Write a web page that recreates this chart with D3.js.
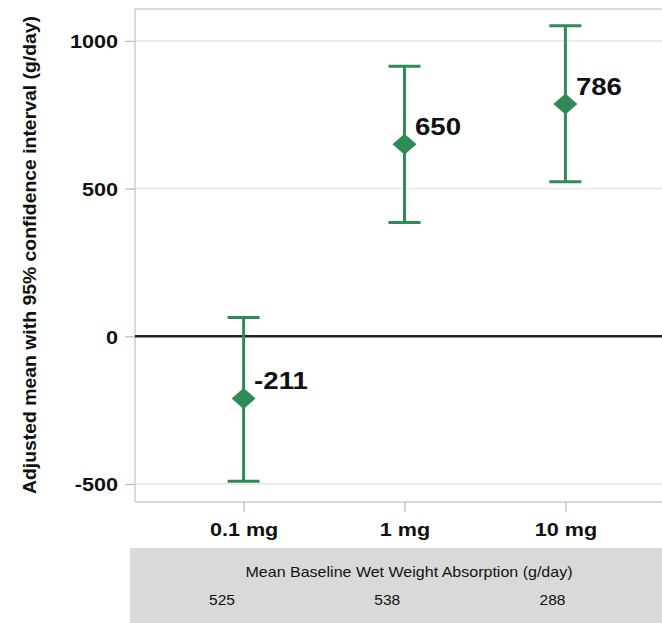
<!DOCTYPE html>
<html>
<head>
<meta charset="utf-8">
<script src="https://cdn.jsdelivr.net/npm/d3@7"></script>
<style>
  html, body { margin: 0; padding: 0; background: #fff; }
  svg { display: block; font-family: "Liberation Sans", Arial, sans-serif; }
</style>
</head>
<body>
<svg id="chart" width="662" height="623"></svg>
<script>
// ---- data ----
const doses = ["0.1 mg", "1 mg", "10 mg"];
const means = [-211, 650, 786];
const lowerCI = [-491, 385, 523];
const upperCI = [64, 914, 1051];
const baselineAbsorption = [525, 538, 288];
const yTicks = [-500, 0, 500, 1000];
const yTitle = "Adjusted mean with 95% confidence interval (g/day)";
const tableTitle = "Mean Baseline Wet Weight Absorption (g/day)";

// ---- layout ----
const W = 662, H = 623;
const plot = { left: 135, top: 9, bottom: 502, right: 674 };
const green = "#2e8b57";
const sx = 1.2; // horizontal stretch of bold text in the reference

const svg = d3.select("#chart");

const x = d3.scalePoint().domain(doses).range([plot.left, plot.right]).padding(0.675);
const y = d3.scaleLinear().domain([-561, 1108]).range([plot.bottom, plot.top]);
const xTable = d3.scalePoint().domain(doses).range([222, 552.5]);

// gridlines
svg.append("g").selectAll("line").data(yTicks.filter(d => d !== 0)).join("line")
  .attr("x1", plot.left).attr("x2", W)
  .attr("y1", d => y(d)).attr("y2", d => y(d))
  .attr("stroke", "#e6e6e6").attr("stroke-width", 1.5);

// frame: left, top, bottom
svg.append("line").attr("x1", plot.left).attr("x2", plot.left)
  .attr("y1", plot.top).attr("y2", plot.bottom)
  .attr("stroke", "#cfcfcf").attr("stroke-width", 1.5);
svg.append("line").attr("x1", plot.left).attr("x2", W)
  .attr("y1", plot.top).attr("y2", plot.top)
  .attr("stroke", "#cfcfcf").attr("stroke-width", 1.5);
svg.append("line").attr("x1", plot.left).attr("x2", W)
  .attr("y1", plot.bottom).attr("y2", plot.bottom)
  .attr("stroke", "#cfcfcf").attr("stroke-width", 1.5);

// zero line
svg.append("line").attr("x1", plot.left).attr("x2", W)
  .attr("y1", y(0)).attr("y2", y(0))
  .attr("stroke", "#222").attr("stroke-width", 2.5);

// y axis
const yAxis = d3.axisLeft(y).tickValues(yTicks).tickSize(10).tickPadding(8).tickFormat(d => String(d));
const gy = svg.append("g").attr("transform", `translate(${plot.left},0)`).call(yAxis);
gy.select(".domain").remove();
gy.selectAll(".tick line").attr("stroke", "#bbb").attr("stroke-width", 1.2);
gy.selectAll(".tick text")
  .attr("font-size", 18).attr("font-weight", "bold").attr("fill", "#111")
  .attr("font-family", "Liberation Sans, Arial, sans-serif")
  .attr("dy", null).attr("x", null).attr("text-anchor", "end")
  .attr("transform", `translate(-17,7) scale(${sx},1)`);

// x axis
const xAxis = d3.axisBottom(x).tickSize(10).tickPadding(6);
const gx = svg.append("g").attr("transform", `translate(0,${plot.bottom})`).call(xAxis);
gx.select(".domain").remove();
gx.selectAll(".tick line").attr("stroke", "#bbb").attr("stroke-width", 1.2);
gx.selectAll(".tick text")
  .attr("font-size", 18).attr("font-weight", "bold").attr("fill", "#111")
  .attr("font-family", "Liberation Sans, Arial, sans-serif")
  .attr("dy", null).attr("y", null).attr("text-anchor", "middle")
  .attr("transform", `translate(0,34) scale(${sx},1)`);

// y title
svg.append("text")
  .attr("transform", `translate(36,${(15 + 495) / 2}) rotate(-90)`)
  .attr("text-anchor", "middle")
  .attr("font-size", 17.5).attr("font-weight", "bold").attr("fill", "#111")
  .attr("textLength", 478).attr("lengthAdjust", "spacingAndGlyphs")
  .text(yTitle);

// error bars
const idx = d3.range(doses.length);
const g = svg.append("g");
g.selectAll("line.v").data(idx).join("line").attr("class", "v")
  .attr("x1", i => x(doses[i])).attr("x2", i => x(doses[i]))
  .attr("y1", i => y(upperCI[i])).attr("y2", i => y(lowerCI[i]))
  .attr("stroke", green).attr("stroke-width", 3);
g.selectAll("line.cu").data(idx).join("line").attr("class", "cu")
  .attr("x1", i => x(doses[i]) - 16).attr("x2", i => x(doses[i]) + 16)
  .attr("y1", i => y(upperCI[i])).attr("y2", i => y(upperCI[i]))
  .attr("stroke", green).attr("stroke-width", 3);
g.selectAll("line.cl").data(idx).join("line").attr("class", "cl")
  .attr("x1", i => x(doses[i]) - 16).attr("x2", i => x(doses[i]) + 16)
  .attr("y1", i => y(lowerCI[i])).attr("y2", i => y(lowerCI[i]))
  .attr("stroke", green).attr("stroke-width", 3);

// diamonds
g.selectAll("path.d").data(idx).join("path").attr("class", "d")
  .attr("transform", i => `translate(${x(doses[i])},${y(means[i])})`)
  .attr("d", "M0,-10.5L12,0L0,10.5L-12,0Z")
  .attr("fill", green);

// value labels
g.selectAll("text.lab").data(idx).join("text").attr("class", "lab")
  .attr("transform", i => `translate(${x(doses[i]) + 10.5},${y(means[i]) - 9.5}) scale(1.15,1)`)
  .attr("font-size", 24).attr("font-weight", "bold").attr("fill", "#111")
  .text(i => String(means[i]));

// table
svg.append("rect").attr("x", 130).attr("y", 548).attr("width", W - 130).attr("height", H - 548)
  .attr("fill", "#d9d9d9");
svg.append("text").attr("x", 409).attr("y", 577).attr("text-anchor", "middle")
  .attr("font-size", 15).attr("fill", "#111")
  .attr("textLength", 327).attr("lengthAdjust", "spacingAndGlyphs")
  .text(tableTitle);
svg.append("g").selectAll("text").data(idx).join("text")
  .attr("x", i => xTable(doses[i])).attr("y", 605).attr("text-anchor", "middle")
  .attr("font-size", 15.5).attr("fill", "#111")
  .text(i => baselineAbsorption[i]);
</script>
</body>
</html>
